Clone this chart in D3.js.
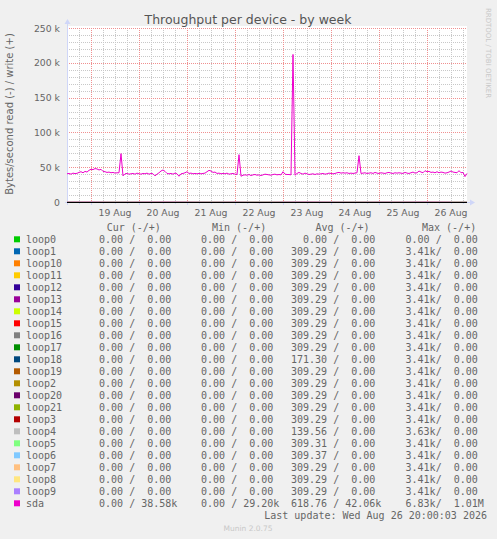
<!DOCTYPE html>
<html>
<head>
<meta charset="utf-8">
<script src="https://cdn.jsdelivr.net/npm/d3@7"></script>
<style>
  body { margin: 0; background: #f0f0f0; }
  text { font-family: "DejaVu Sans", sans-serif; fill: #666; }
  .mono { font-family: "DejaVu Sans Mono", monospace; font-size: 10px; white-space: pre; }
</style>
</head>
<body>
<div id="chart"></div>
<script>
// sda write, kB/s, one value per hour from 18 Aug 12:00 to 26 Aug 20:00 (UTC)
const sdaWrite = [
  40.5, 41, 40, 41.5, 40.8, 41.2,
  42.5, 43.5, 42, 44, 43,
  45.5, 47, 46.5, 48, 47.5, 46, 47,
  44, 43.5, 42.5, 43, 42, 42.5, 41.5, 42,
  42, 69.5, 37.5,
  40.5, 41, 40, 40.5, 41, 40, 41.5, 40.5, 40, 41, 40.5, 41.5, 40, 41, 40.5,
  37.5, 40,
  42, 44.5, 46, 44,
  41, 40.5, 41, 40, 41.5, 40.5,
  37, 40.5,
  41, 42, 43.5,
  41, 41.5, 40.5, 41, 40.5, 41, 40.5, 41, 41.5,
  43.5, 45.5, 44.5, 42.5, 43,
  41, 41.5, 40.5, 41, 40.5, 41.5, 40, 40.5, 41, 40,
  39.5, 68, 37, 38.5,
  39, 38.5, 39.5, 38, 39, 39.5, 38.5, 39, 38, 39, 40, 39.5, 39, 38.5, 39.5, 40, 39, 39.5, 39,
  43.5, 40, 39.5, 39.5, 39, 212, 38.5,
  41, 42.5, 41, 40, 41.5, 40.5, 39.5, 40, 40.5, 39.5, 40.5,
  40, 40.5, 41, 40, 40.5, 41.5, 41, 40.5, 41, 42,
  42.5, 41.5, 42, 41.5, 42, 41, 41.5, 41, 41.5,
  42, 66.5, 41,
  41.5, 42, 41, 41.5, 42, 41, 42.5, 41.5, 41, 42, 41.5, 41, 42, 42.5, 41.5, 41, 42, 41.5,
  42, 41.5, 41, 42.5, 41.5, 41, 42, 43, 41.5, 42, 44.5, 43, 42, 45, 43.5, 44, 42.5, 43, 42, 43.5,
  42, 43, 42.5, 41.5, 42, 43, 44.5, 43, 42.5, 42, 45, 42, 42.5, 36.5, 41
];
// sda read, kB/s, one value every 12 hours (drawn below zero)
const sdaRead = [0.6, 0.5, 0.7, 0.6, 0.5, 0.6, 0.7, 0.6, 0.8, 0.6, 0.5, 0.6, 0.7, 0.6, 0.6, 0.5, 0.6];

const devices = ['loop0', 'loop1', 'loop10', 'loop11', 'loop12', 'loop13', 'loop14', 'loop15',
  'loop16', 'loop17', 'loop18', 'loop19', 'loop2', 'loop20', 'loop21', 'loop3', 'loop4',
  'loop5', 'loop6', 'loop7', 'loop8', 'loop9', 'sda'];
const colors = ['#00CC00', '#0066B3', '#FF8000', '#FFCC00', '#330099', '#990099', '#CCFF00', '#FF0000',
  '#808080', '#008F00', '#00487D', '#B35A00', '#B38F00', '#6B006B', '#8FB300', '#B30000', '#BEBEBE',
  '#80FF80', '#80C9FF', '#FFC080', '#FFE680', '#AA80FF', '#EE00CC'];

// legend numbers, bytes/second
const curRead  = [0, 0, 0, 0, 0, 0, 0, 0, 0, 0, 0, 0, 0, 0, 0, 0, 0, 0, 0, 0, 0, 0, 0];
const curWrite = [0, 0, 0, 0, 0, 0, 0, 0, 0, 0, 0, 0, 0, 0, 0, 0, 0, 0, 0, 0, 0, 0, 38580];
const minRead  = [0, 0, 0, 0, 0, 0, 0, 0, 0, 0, 0, 0, 0, 0, 0, 0, 0, 0, 0, 0, 0, 0, 0];
const minWrite = [0, 0, 0, 0, 0, 0, 0, 0, 0, 0, 0, 0, 0, 0, 0, 0, 0, 0, 0, 0, 0, 0, 29200];
const avgRead  = [0, 309.29, 309.29, 309.29, 309.29, 309.29, 309.29, 309.29, 309.29, 309.29, 171.30,
  309.29, 309.29, 309.29, 309.29, 309.29, 139.56, 309.31, 309.37, 309.29, 309.29, 309.29, 618.76];
const avgWrite = [0, 0, 0, 0, 0, 0, 0, 0, 0, 0, 0, 0, 0, 0, 0, 0, 0, 0, 0, 0, 0, 0, 42060];
const maxRead  = [0, 3410, 3410, 3410, 3410, 3410, 3410, 3410, 3410, 3410, 3410, 3410, 3410, 3410,
  3410, 3410, 3630, 3410, 3410, 3410, 3410, 3410, 6830];
const maxWrite = [0, 0, 0, 0, 0, 0, 0, 0, 0, 0, 0, 0, 0, 0, 0, 0, 0, 0, 0, 0, 0, 0, 1010000];

const yTicks = [0, 50, 100, 150, 200, 250];
const yTickLabels = ['0', '50 k', '100 k', '150 k', '200 k', '250 k'];
const dayLabels = ['19 Aug', '20 Aug', '21 Aug', '22 Aug', '23 Aug', '24 Aug', '25 Aug', '26 Aug'];

const W = 497, H = 539;
const pl = 67, pr = 467, pt = 28, pb = 202;
const start = new Date(Date.UTC(2026, 7, 18, 12));
const end = new Date(Date.UTC(2026, 7, 26, 20));

const x = d3.scaleUtc().domain([start, end]).range([pl, pr]);
const y = d3.scaleLinear().domain([0, 250]).range([pb, pt]);

const svg = d3.select('#chart').append('svg')
  .attr('width', W).attr('height', H);

svg.append('rect').attr('width', W).attr('height', H).attr('fill', '#f0f0f0');
svg.append('rect').attr('x', pl).attr('y', pt - 2).attr('width', pr - pl).attr('height', pb - pt + 2)
  .attr('fill', '#fff');

// grid
const grid = svg.append('g').attr('shape-rendering', 'crispEdges');
const minorY = d3.range(10, 251, 10).filter(v => v % 50 !== 0);
grid.selectAll('.hmin').data(minorY).enter().append('line')
  .attr('x1', pl).attr('x2', pr)
  .attr('y1', d => Math.round(y(d)) + 0.5).attr('y2', d => Math.round(y(d)) + 0.5)
  .attr('stroke', '#c8c8c8').attr('stroke-dasharray', '1,1');
const hours6 = d3.utcHour.every(6).range(start, end).filter(d => d.getUTCHours() !== 0);
grid.selectAll('.vmin').data(hours6).enter().append('line')
  .attr('x1', d => Math.round(x(d)) + 0.5).attr('x2', d => Math.round(x(d)) + 0.5)
  .attr('y1', pt).attr('y2', pb)
  .attr('stroke', '#c8c8c8').attr('stroke-dasharray', '1,1');
grid.selectAll('.hmaj').data(yTicks.slice(1)).enter().append('line')
  .attr('x1', pl).attr('x2', pr)
  .attr('y1', d => Math.round(y(d)) + 0.5).attr('y2', d => Math.round(y(d)) + 0.5)
  .attr('stroke', '#f09090').attr('stroke-dasharray', '1,1');
const days = d3.utcDay.range(start, end);
grid.selectAll('.vmaj').data(days).enter().append('line')
  .attr('x1', d => Math.round(x(d)) + 0.5).attr('x2', d => Math.round(x(d)) + 0.5)
  .attr('y1', pt).attr('y2', pb)
  .attr('stroke', '#f09090').attr('stroke-dasharray', '1,1');

// axes in munin's light blue
const axisCol = '#CFD6F8';
svg.append('line').attr('x1', pl + 0.5).attr('x2', pl + 0.5).attr('y1', pb + 3).attr('y2', pt - 4)
  .attr('stroke', axisCol);
svg.append('path').attr('d', `M${pl - 2.5},${pt - 4}L${pl + 3.5},${pt - 4}L${pl + 0.5},${pt - 9}Z`)
  .attr('fill', axisCol);
svg.append('line').attr('x1', pl - 2).attr('x2', pr + 3).attr('y1', pb + 0.5).attr('y2', pb + 0.5)
  .attr('stroke', axisCol);
svg.append('path').attr('d', `M${pr + 3},${pb - 2.5}L${pr + 3},${pb + 3.5}L${pr + 8},${pb + 0.5}Z`)
  .attr('fill', axisCol);
svg.selectAll('.xt').data(d3.utcHour.every(6).range(start, end)).enter().append('line')
  .attr('x1', d => Math.round(x(d)) + 0.5).attr('x2', d => Math.round(x(d)) + 0.5)
  .attr('y1', pb).attr('y2', d => pb + (d.getUTCHours() === 0 ? 3 : 2))
  .attr('stroke', axisCol);

// y labels
svg.selectAll('.yl').data(yTicks).enter().append('text')
  .attr('x', 60).attr('y', d => y(d) + 3.5)
  .attr('text-anchor', 'end').attr('font-size', 9.3)
  .text((d, i) => yTickLabels[i]);

// x labels at noon
svg.selectAll('.xl').data(dayLabels).enter().append('text')
  .attr('x', (d, i) => x(d3.utcHour.offset(days[i], 12)))
  .attr('y', 216).attr('text-anchor', 'middle').attr('font-size', 9.3)
  .text(d => d);

// loop devices: flat read average, drawn negative
const plot = svg.append('g');
const line = d3.line().x(d => x(d.t)).y(d => y(d.v));
devices.slice(0, 22).forEach((name, i) => {
  plot.append('path')
    .datum([{ t: start, v: -avgRead[i] / 1000 }, { t: end, v: -avgRead[i] / 1000 }])
    .attr('d', line).attr('fill', 'none').attr('stroke', colors[i]).attr('stroke-width', 1);
});
// sda read (negative) and write
plot.append('path')
  .datum(sdaRead.map((v, i) => ({ t: d3.utcHour.offset(start, i * 12), v: -v })))
  .attr('d', line).attr('fill', 'none').attr('stroke', colors[22]).attr('stroke-width', 1);
plot.append('path')
  .datum(sdaWrite.map((v, i) => ({ t: d3.utcHour.offset(start, i), v: v })))
  .attr('d', line).attr('fill', 'none').attr('stroke', colors[22]).attr('stroke-width', 1);

// zero rule
svg.append('line').attr('x1', pl).attr('x2', pr).attr('y1', y(0) + 0.5).attr('y2', y(0) + 0.5)
  .attr('stroke', '#000').attr('stroke-width', 1).attr('shape-rendering', 'crispEdges');

// titles
svg.append('text').attr('x', 248).attr('y', 24).attr('text-anchor', 'middle')
  .attr('font-size', 12.5).style('fill', '#555')
  .text('Throughput per device - by week');
svg.append('text').attr('transform', 'translate(13,114) rotate(-90)')
  .attr('text-anchor', 'middle').attr('font-size', 10)
  .text('Bytes/second read (-) / write (+)');
svg.append('text').attr('transform', 'translate(485.5,53) rotate(90)')
  .attr('text-anchor', 'middle').attr('font-size', 7).style('fill', '#c8c8c8')
  .text('RRDTOOL / TOBI OETIKER');

// legend
function fmt(v) {
  let s = ' ', n = v;
  if (v >= 1e6) { s = 'M'; n = v / 1e6; } else if (v >= 1e3) { s = 'k'; n = v / 1e3; }
  return n.toFixed(2).padStart(6, ' ') + s;
}
const colX = [87, 189, 291, 393.5];
const headX = [106.7, 212, 315.4, 422];
const heads = ['Cur (-/+)', 'Min (-/+)', 'Avg (-/+)', 'Max (-/+)'];
const legend = svg.append('g');
const rowY = i => 243.3 + 12 * i;
heads.forEach((h, j) => {
  legend.append('text').attr('class', 'mono').attr('x', headX[j]).attr('y', 231.3).text(h);
});
const cols = [[curRead, curWrite], [minRead, minWrite], [avgRead, avgWrite], [maxRead, maxWrite]];
const rows = legend.selectAll('.row').data(devices).enter().append('g');
rows.append('rect')
  .attr('x', 14).attr('y', (d, i) => rowY(i) - 7).attr('width', 6).attr('height', 6)
  .attr('fill', (d, i) => colors[i]);
rows.append('text').attr('class', 'mono')
  .attr('x', 26).attr('y', (d, i) => rowY(i)).text(d => d);
cols.forEach((c, j) => {
  rows.append('text').attr('class', 'mono')
    .attr('x', colX[j]).attr('y', (d, i) => rowY(i))
    .text((d, i) => fmt(c[0][i]) + '/' + fmt(c[1][i]));
});
legend.append('text').attr('class', 'mono')
  .attr('x', 487).attr('y', rowY(23)).attr('text-anchor', 'end')
  .text('Last update: Wed Aug 26 20:00:03 2026');
svg.append('text').attr('x', 248).attr('y', 531).attr('text-anchor', 'middle')
  .attr('font-size', 7.5).style('fill', '#c8c8c8').text('Munin 2.0.75');
</script>
</body>
</html>
